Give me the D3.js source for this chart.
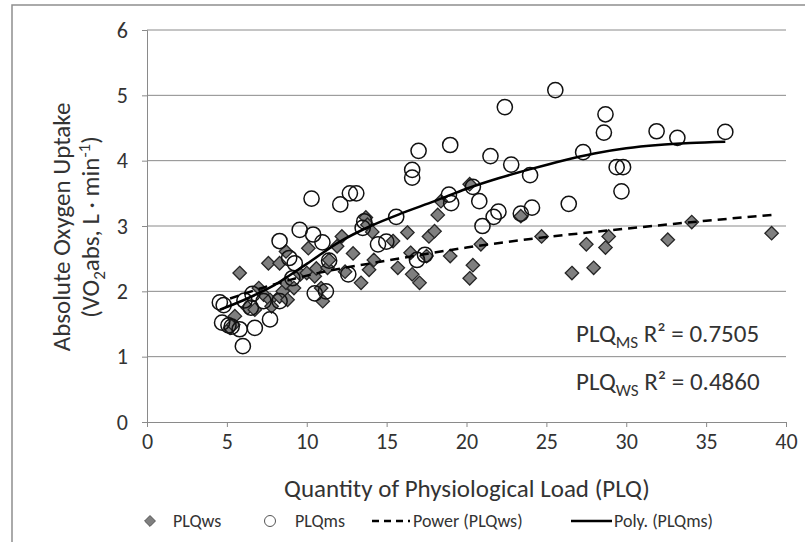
<!DOCTYPE html>
<html><head><meta charset="utf-8">
<script src="https://cdn.jsdelivr.net/npm/d3@7"></script>
<style>
body{margin:0;background:#fff;}
text{font-family:Carlito,Lato,"Open Sans",sans-serif;fill:#333;}
.tk text{font-size:22px;}
</style></head>
<body><svg id="c" width="805" height="542"></svg>
<script>
// ---- data ----
const wsX = [5.2,5.4,5.5,5.8,6.3,6.75,7.0,7.3,7.6,7.7,7.8,8.3,8.3,8.5,8.7,8.7,8.8,9.2,9.6,10.0,10.1,10.5,10.6,10.9,11.0,11.3,11.4,11.9,12.2,12.4,12.9,13.4,13.7,13.8,13.9,14.1,14.2,15.4,15.7,16.3,16.5,16.6,17.06,17.5,17.65,18.0,18.2,18.4,18.98,20.2,20.4,20.2,20.9,23.4,24.7,26.6,27.5,27.96,28.7,28.9,32.6,34.1,39.1];
const wsY = [1.44,1.49,1.62,2.28,1.75,1.72,2.05,1.95,2.43,1.87,1.77,2.43,1.92,2.0,2.61,2.13,1.87,2.05,2.26,2.28,2.66,2.23,2.35,2.05,1.85,2.36,2.48,2.69,2.84,2.3,2.58,2.13,3.13,3.02,2.33,2.91,2.48,2.77,2.36,2.9,2.59,2.26,2.13,2.54,2.84,2.92,3.17,3.38,2.54,2.2,2.4,3.64,2.72,3.15,2.84,2.28,2.72,2.36,2.67,2.84,2.79,3.06,2.89];
const msX = [4.56,4.8,4.7,5.1,5.3,5.8,6.0,6.1,6.5,6.6,6.75,7.3,7.7,8.3,8.3,8.9,9.1,9.25,9.56,10.3,10.4,10.5,10.98,11.2,11.4,12.1,12.6,12.7,13.1,13.5,13.6,14.46,14.98,15.6,16.6,16.6,16.9,17.0,17.4,18.9,18.98,19.04,20.4,20.8,21.0,21.5,21.7,22.0,22.4,22.8,23.4,23.98,24.1,25.56,26.4,27.3,28.6,28.7,29.4,29.8,29.7,31.9,33.2,36.2];
const msY = [1.83,1.79,1.52,1.48,1.46,1.42,1.16,1.86,1.75,1.96,1.44,1.85,1.57,1.85,2.77,2.51,2.2,2.43,2.94,3.42,2.87,1.97,2.75,2.0,2.47,3.33,2.26,3.5,3.5,2.97,3.07,2.72,2.76,3.14,3.86,3.74,2.48,4.15,2.56,3.48,4.24,3.35,3.6,3.38,3.0,4.07,3.14,3.22,4.82,3.94,3.19,3.78,3.28,5.08,3.34,4.13,4.43,4.71,3.9,3.9,3.53,4.45,4.35,4.44];
const powerX = [5.2,8,10,15,20,25,30,35,39.1];
const powerY = [1.89,2.11,2.24,2.47,2.67,2.83,2.96,3.08,3.17];
const polyX = [4.56,6,8,10,12,14,16,18,20,22,24,26,28,30,32,34,36.2];
const polyY = [1.72,1.86,2.1,2.42,2.75,3.0,3.2,3.38,3.57,3.73,3.87,4.0,4.11,4.19,4.24,4.27,4.29];
const xTicks = [0,5,10,15,20,25,30,35,40];
const yTicks = [0,1,2,3,4,5,6];
const legendLabels = ["PLQws","PLQms","Power (PLQws)","Poly. (PLQms)"];

const svg = d3.select("#c");
const x = d3.scaleLinear().domain([0,40]).range([147,786]);
const y = d3.scaleLinear().domain([0,6]).range([422,30]);
const grid = "#8a8a8a";

// outer border
svg.append("path").attr("d","M12,542V5H805").attr("fill","none").attr("stroke","#8f8f8f").attr("stroke-width",1.5);

// gridlines
svg.append("g").selectAll("line").data(yTicks.filter(d=>d>0)).join("line")
  .attr("x1",x(0)).attr("x2",x(40)).attr("y1",d=>y(d)).attr("y2",d=>y(d))
  .attr("stroke",grid).attr("stroke-width",1);

// axes
const xa = svg.append("g").attr("class","tk").attr("transform",`translate(0,${y(0)})`)
  .call(d3.axisBottom(x).tickValues(xTicks).tickSize(5).tickPadding(6).tickFormat(d3.format("d")));
const ya = svg.append("g").attr("class","tk").attr("transform",`translate(${x(0)},0)`)
  .call(d3.axisLeft(y).tickValues(yTicks).tickSize(5).tickPadding(14).tickFormat(d3.format("d")));
[xa,ya].forEach(a=>{
  a.attr("font-size",22).attr("font-family",null);
  a.select(".domain").attr("stroke",grid);
  a.selectAll(".tick line").attr("stroke",grid);
  a.selectAll(".tick text").attr("fill","#333");
});

// markers: diamonds
const ws = d3.zip(wsX,wsY), ms = d3.zip(msX,msY);
svg.append("g").selectAll("path").data(ws).join("path")
  .attr("d",d3.symbol().type(d3.symbolDiamond2).size(115))
  .attr("transform",d=>`translate(${x(d[0])},${y(d[1])})`)
  .attr("fill","#7f7f7f").attr("stroke","#262626").attr("stroke-width",1.3);
// circles
svg.append("g").selectAll("circle").data(ms).join("circle")
  .attr("cx",d=>x(d[0])).attr("cy",d=>y(d[1])).attr("r",7.6)
  .attr("fill","none").attr("stroke","#111").attr("stroke-width",1.5);

// trend lines
const line = d3.line().x(d=>x(d[0])).y(d=>y(d[1])).curve(d3.curveMonotoneX);
svg.append("path").datum(d3.zip(powerX,powerY)).attr("d",line)
  .attr("fill","none").attr("stroke","#000").attr("stroke-width",2.5).attr("stroke-dasharray","9,6");
svg.append("path").datum(d3.zip(polyX,polyY)).attr("d",line)
  .attr("fill","none").attr("stroke","#000").attr("stroke-width",2.5);

// R² annotations
function r2(ypos, sub, val){
  const t = svg.append("text").attr("x",576).attr("y",ypos).style("font-size","25px").attr("fill","#111");
  t.append("tspan").text("PLQ");
  t.append("tspan").text(sub).attr("dy",6).style("font-size","17px");
  t.append("tspan").text(" R² = "+val).attr("dy",-6);
}
r2(342,"MS","0.7505");
r2(390,"WS","0.4860");

// axis titles
svg.append("text").attr("x",467).attr("y",497).attr("text-anchor","middle")
  .style("font-size","25px").text("Quantity of Physiological Load (PLQ)");
const yt = svg.append("g").attr("transform","translate(0,227) rotate(-90)");
yt.append("text").attr("x",0).attr("y",70).attr("text-anchor","middle").style("font-size","25px").text("Absolute Oxygen Uptake");
const t2 = yt.append("text").attr("x",0).attr("y",99).attr("text-anchor","middle").style("font-size","25px");
t2.append("tspan").text("(VO");
t2.append("tspan").text("2").attr("dy",6).style("font-size","17px");
t2.append("tspan").text("abs, L · min").attr("dy",-6);
t2.append("tspan").text("-1").attr("dy",-9).style("font-size","17px");
t2.append("tspan").text(")").attr("dy",9);

// legend
const lg = svg.append("g").attr("transform","translate(0,521)");
lg.append("path").attr("d",d3.symbol().type(d3.symbolDiamond2).size(75)).attr("transform","translate(150,0)")
  .attr("fill","#7f7f7f").attr("stroke","#555").attr("stroke-width",1);
lg.append("text").attr("x",173).attr("y",6).style("font-size","18px").text(legendLabels[0]);
lg.append("circle").attr("cx",270).attr("cy",0).attr("r",5.5).attr("fill","none").attr("stroke","#555").attr("stroke-width",1);
lg.append("text").attr("x",295).attr("y",6).style("font-size","18px").text(legendLabels[1]);
lg.append("line").attr("x1",372).attr("x2",410).attr("y1",0).attr("y2",0).attr("stroke","#000").attr("stroke-width",2.5).attr("stroke-dasharray","7,5");
lg.append("text").attr("x",413).attr("y",6).style("font-size","18px").text(legendLabels[2]);
lg.append("line").attr("x1",571).attr("x2",612).attr("y1",0).attr("y2",0).attr("stroke","#000").attr("stroke-width",2.5);
lg.append("text").attr("x",614).attr("y",6).style("font-size","18px").text(legendLabels[3]);
</script></body></html>
